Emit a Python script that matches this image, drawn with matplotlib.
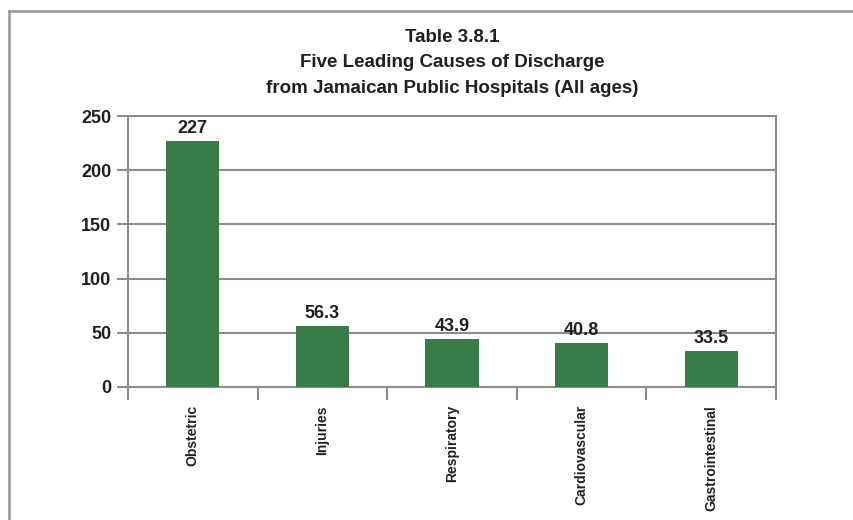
import matplotlib
matplotlib.use("Agg")
import matplotlib.pyplot as plt
import numpy as np
from matplotlib.lines import Line2D

plt.rcParams['font.family'] = ['Liberation Sans', 'DejaVu Sans']
plt.rcParams['font.weight'] = 'bold'

# data
causes = ['Obstetric', 'Injuries', 'Respiratory', 'Cardiovascular', 'Gastrointestinal']
values = [227, 56.3, 43.9, 40.8, 33.5]
value_labels = ['227', '56.3', '43.9', '40.8', '33.5']
yticks = [0, 50, 100, 150, 200, 250]

gray = '#8f8b86'
green = '#387d47'
ink = '#231f20'

fig = plt.figure(figsize=(8.54, 5.2), dpi=100)
ax = fig.add_axes([0.1499, 0.2558, 0.7588, 0.5211])

x = np.arange(len(causes))
bars = ax.bar(x, values, width=0.41, color=green, zorder=3)
ax.bar_label(bars, labels=value_labels, padding=3, fontsize=13, fontweight='bold', color=ink)

ax.set_xlim(-0.5, len(causes) - 0.5)
ax.set_ylim(0, 250)
ax.set_yticks(yticks)
ax.tick_params(axis='y', length=8, width=1.5, color=gray, pad=4, labelsize=13, labelcolor=ink)
ax.set_yticklabels([str(v) for v in yticks], fontweight='bold')

ax.set_xticks(x)
ax.set_xticklabels(causes, rotation=90, fontsize=10, fontweight='bold', color=ink)
ax.set_xticks(np.arange(-0.5, len(causes)), minor=True)
ax.tick_params(axis='x', which='major', length=0, pad=13)
ax.tick_params(axis='x', which='minor', length=9, width=1.5, color=gray)

ax.yaxis.grid(True, color=gray, linewidth=1.5, zorder=0)
ax.set_axisbelow(True)
for s in ax.spines.values():
    s.set_color(gray)
    s.set_linewidth(1.5)

fig.text(0.5293, 0.945, 'Table 3.8.1\nFive Leading Causes of Discharge\nfrom Jamaican Public Hospitals (All ages)',
         ha='center', va='top', fontsize=13.5, fontweight='bold', color=ink, linespacing=1.68)

# outer frame
fig.add_artist(Line2D([9 / 854, 9 / 854], [0, 1 - 11 / 520], color='#9a9590', linewidth=1.8))
fig.add_artist(Line2D([9 / 854, 1], [1 - 11 / 520, 1 - 11 / 520], color='#9a9590', linewidth=1.8))

fig.savefig('out.png', dpi=100)
